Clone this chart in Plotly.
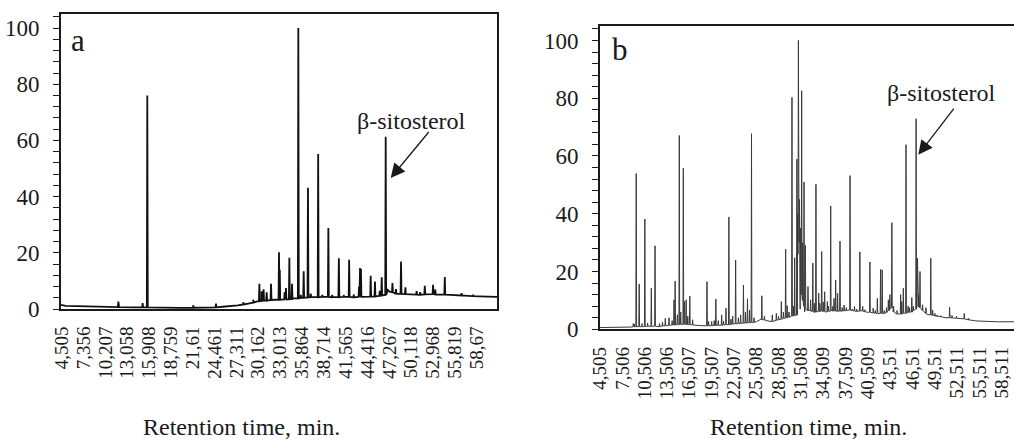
import plotly.graph_objects as go

FONT = "Liberation Serif"
INK = "#1a1a1a"

# ---------------- sample a ----------------
ticks_a = ["4,505", "7,356", "10,207", "13,058", "15,908", "18,759", "21,61",
           "24,461", "27,311", "30,162", "33,013", "35,864", "38,714", "41,565",
           "44,416", "47,267", "50,118", "52,968", "55,819", "58,67"]

# baseline (retention time, min / relative abundance, %)
base_a_t = [4.42, 4.6, 5.0, 6.5, 8.2, 10.0, 12.0, 14.0, 16.5, 18.0, 20.0, 22.0,
            24.0, 25.5, 26.5, 27.5, 28.2, 29.0, 29.5, 30.0, 30.6, 31.5, 32.4,
            33.4, 34.8, 35.8, 37.3, 38.6, 40.0, 41.3, 42.6, 44.0, 45.8, 46.5,
            47.05, 47.3, 48.4, 49.8, 51.0, 52.4, 53.8, 55.2, 56.2, 57.5, 59.0,
            60.3, 61.3]
base_a_y = [1.5, 1.3, 1.1, 1.0, 0.9, 0.8, 0.7, 0.6, 0.5, 0.45, 0.4, 0.45,
            0.6, 0.8, 1.0, 1.3, 1.6, 2.0, 2.3, 2.7, 3.0, 3.1, 3.3,
            3.5, 3.8, 4.0, 4.2, 4.3, 4.2, 4.3, 4.2, 4.4, 4.6, 4.9,
            6.8, 6.2, 5.4, 5.2, 5.0, 5.3, 5.1, 5.0, 4.8, 4.7, 4.5,
            4.4, 4.3]

# peaks: apex time, apex height, level at the foot
peak_a_t = [11.9, 15.07, 15.68, 21.68, 24.64, 28.2, 29.5, 30.3, 30.6, 30.85,
            31.25, 31.82, 32.86, 32.96, 33.6, 33.77, 34.21, 34.56, 35.38, 35.7,
            36.08, 36.64, 37.0, 37.97, 38.5, 39.3, 39.8, 40.67, 41.3, 42.01,
            42.6, 43.3, 43.43, 43.55, 44.82, 45.38, 46.0, 46.26, 46.78, 47.66,
            48.12, 48.78, 49.35, 50.82, 51.28, 51.88, 52.96, 53.25, 54.49,
            56.68, 58.2]
peak_a_h = [2.6, 2.1, 76.0, 1.3, 1.9, 2.4, 3.3, 9.0, 6.3, 7.0,
            5.9, 9.0, 20.2, 14.0, 6.0, 7.5, 18.2, 9.0, 100.0, 5.0,
            13.4, 43.2, 5.5, 55.2, 5.0, 28.8, 5.0, 18.1, 5.0, 17.5,
            5.2, 8.0, 14.6, 14.2, 11.8, 9.8, 6.5, 11.3, 61.3, 9.2,
            7.1, 16.9, 7.7, 6.4, 6.0, 8.3, 8.6, 6.9, 11.4,
            5.6, 5.0]
peak_a_foot = [0.7, 0.55, 0.55, 0.45, 0.6, 1.6, 2.3, 2.8, 2.9, 3.0,
               3.0, 3.2, 3.3, 3.3, 3.4, 3.4, 3.5, 3.6, 3.8, 3.9,
               4.0, 4.1, 4.2, 4.2, 4.3, 4.3, 4.2, 4.2, 4.3, 4.3,
               4.2, 4.3, 4.3, 4.3, 4.4, 4.5, 4.7, 4.8, 5.0, 6.0,
               5.5, 5.4, 5.3, 5.1, 5.1, 5.2, 5.3, 5.2, 5.1,
               4.8, 4.6]

# ---------------- sample b ----------------
ticks_b = ["4,505", "7,506", "10,506", "13,506", "16,507", "19,507", "22,507",
           "25,508", "28,508", "31,508", "34,509", "37,509", "40,509", "43,51",
           "46,51", "49,51", "52,511", "55,511", "58,511"]

base_b_t = [4.505, 6.0, 8.0, 8.9, 9.6, 10.3, 11.0, 12.0, 13.0, 14.0, 15.0,
            16.0, 17.0, 17.8, 18.5, 19.5, 20.5, 21.5, 22.5, 23.5, 24.5, 25.5,
            26.2, 26.8, 27.5, 28.3, 29.0, 29.8, 30.5, 31.0, 31.4, 32.0, 32.7,
            33.3, 34.0, 34.8, 35.6, 36.4, 37.2, 38.0, 38.8, 39.6, 40.4, 41.2,
            42.0, 42.8, 43.4, 43.9, 44.4, 45.0, 45.8, 46.5, 47.3, 47.8, 48.4,
            49.3, 50.2, 51.0, 52.0, 53.0, 54.0, 55.0, 56.5, 58.0, 60.2]
base_b_y = [0.6, 0.6, 0.7, 0.8, 1.0, 0.9, 1.1, 1.0, 1.2, 1.4, 1.6,
            1.7, 1.5, 1.3, 1.2, 1.3, 1.4, 1.6, 1.9, 2.1, 2.3, 2.6,
            3.6, 3.0, 2.6, 3.2, 3.6, 4.2, 4.6, 4.9, 7.0, 6.0, 6.6,
            5.8, 6.4, 6.0, 6.6, 6.2, 6.4, 6.7, 6.2, 6.5, 5.9, 5.6,
            5.4, 5.6, 6.5, 7.5, 5.4, 5.2, 5.6, 6.0, 7.8, 6.6, 5.2,
            4.8, 4.4, 4.0, 3.9, 3.7, 3.2, 2.9, 2.7, 2.6, 2.6]

peak_b_t = [8.98, 9.12, 9.37, 9.77, 10.15, 10.53, 10.9, 11.4, 11.9, 12.5,
            12.9, 13.28, 13.78, 14.2, 14.45, 14.6, 14.9, 15.16, 15.35, 15.7,
            15.85, 16.08, 16.3, 16.57, 16.95, 18.88, 19.1, 19.5, 19.85, 20.07,
            20.4, 20.85, 21.1, 21.43, 21.82, 22.1, 22.33, 22.73, 23.1, 23.4,
            23.78, 24.05, 24.32, 24.6, 24.86, 25.2, 26.25, 26.6, 27.66, 28.2,
            28.5, 28.87, 29.15, 29.45, 29.65, 29.9, 30.3, 30.5, 30.66, 30.96,
            31.06, 31.16, 31.3, 31.42, 31.6, 31.75, 31.92, 32.1, 32.45, 32.8,
            33.1, 33.3, 33.52, 33.89, 34.05, 34.29, 34.5, 34.69, 35.05, 35.2,
            35.5, 35.8, 35.95, 36.17, 36.43, 36.75, 37.05, 37.3, 37.6, 38.1,
            38.4, 38.7, 39.0, 39.42, 39.8, 40.1, 40.77, 41.2, 41.5, 41.77,
            42.2, 42.42, 42.7, 43.0, 43.25, 43.45, 43.72, 43.95, 44.4, 44.9,
            45.05, 45.26, 45.62, 45.9, 46.1, 46.4, 46.6, 46.98, 47.16, 47.3,
            47.5, 47.85, 48.3, 48.95, 49.2, 49.5, 49.8, 50.3, 51.48, 51.8,
            52.4, 53.45, 54.0]
peak_b_h = [2.0, 1.8, 53.9, 15.7, 2.0, 38.2, 2.2, 14.2, 28.9, 2.0,
            2.5, 3.8, 4.0, 3.0, 10.2, 16.7, 5.0, 67.1, 6.0, 55.8,
            9.6, 10.2, 4.5, 11.5, 3.3, 16.5, 2.7, 2.7, 3.0, 10.5,
            3.0, 5.0, 2.8, 7.3, 38.9, 3.5, 4.6, 24.0, 4.0, 5.0,
            15.3, 6.0, 10.6, 6.7, 67.7, 4.0, 11.6, 4.5, 5.0, 5.5,
            4.5, 9.6, 6.0, 27.7, 8.2, 6.0, 80.3, 8.0, 24.8, 58.9,
            40.0, 100.0, 45.0, 35.0, 82.6, 30.0, 51.0, 29.0, 14.8, 10.2,
            22.9, 9.0, 50.2, 12.5, 9.0, 26.9, 9.5, 13.0, 9.6, 8.0,
            42.7, 8.0, 10.7, 17.1, 12.5, 30.5, 7.5, 8.4, 7.5, 53.2,
            7.0, 7.9, 7.0, 26.8, 7.9, 6.8, 23.3, 7.3, 6.5, 10.7,
            20.7, 20.6, 6.5, 7.5, 10.2, 12.0, 36.9, 8.0, 6.5, 12.0,
            9.6, 14.2, 63.9, 8.0, 7.5, 11.0, 8.0, 72.9, 24.6, 12.0,
            20.0, 8.5, 7.5, 24.6, 6.7, 5.5, 5.0, 4.7, 7.6, 4.8,
            4.5, 5.5, 3.8]
peak_b_foot = [0.8, 0.8, 0.9, 0.9, 0.9, 1.0, 1.0, 1.0, 1.1, 1.0,
               1.1, 1.2, 1.4, 1.5, 1.5, 1.5, 1.6, 1.6, 1.7, 1.7,
               1.7, 1.7, 1.6, 1.6, 1.5, 1.2, 1.2, 1.3, 1.3, 1.3,
               1.4, 1.4, 1.5, 1.6, 1.6, 1.7, 1.8, 1.9, 2.0, 2.0,
               2.1, 2.2, 2.2, 2.3, 2.3, 2.4, 3.4, 3.2, 2.7, 3.1,
               3.3, 3.5, 3.7, 3.9, 4.0, 4.2, 4.6, 4.7, 4.8, 4.9,
               26.0, 30.0, 30.0, 12.0, 12.0, 10.0, 8.0, 7.0, 6.5, 6.3,
               6.2, 6.0, 6.0, 6.2, 6.2, 6.3, 6.2, 6.1, 6.1, 6.2,
               6.3, 6.3, 6.4, 6.3, 6.3, 6.3, 6.3, 6.4, 6.5, 6.6,
               6.5, 6.3, 6.2, 6.3, 6.3, 6.1, 5.9, 5.7, 5.6, 5.5,
               5.5, 5.5, 5.5, 5.8, 6.5, 7.0, 7.5, 6.0, 5.3, 5.3,
               5.3, 5.5, 5.6, 5.8, 5.9, 6.0, 6.5, 7.0, 8.0, 7.8,
               7.5, 6.5, 5.5, 5.0, 4.8, 4.6, 4.5, 4.3, 4.0, 3.9,
               3.8, 3.6, 3.3]


def trace_points(base_t, base_y, pk_t, pk_h, pk_foot, half_width):
    """Merge baseline knots and narrow peaks into one time-ordered line."""
    assert len(base_t) == len(base_y)
    assert len(pk_t) == len(pk_h) == len(pk_foot)
    pts = list(zip(base_t, base_y))
    for t, h, f in zip(pk_t, pk_h, pk_foot):
        pts += [(t - half_width, f), (t, h), (t + half_width, f)]
    pts.sort(key=lambda p: p[0])
    return [p[0] for p in pts], [p[1] for p in pts]


xa, ya = trace_points(base_a_t, base_a_y, peak_a_t, peak_a_h, peak_a_foot, 0.06)
xb, yb = trace_points(base_b_t, base_b_y, peak_b_t, peak_b_h, peak_b_foot, 0.05)

W, H = 1014, 441

fig = go.Figure()
fig.add_trace(go.Scatter(x=xa, y=ya, mode="lines", xaxis="x", yaxis="y",
                         line=dict(color="#111111", width=1.8), hoverinfo="skip"))
fig.add_trace(go.Scatter(x=xb, y=yb, mode="lines", xaxis="x2", yaxis="y2",
                         line=dict(color="#3a3a3a", width=1.0), hoverinfo="skip"))


def xaxis_style(ticks, rng, domain, anchor):
    return dict(domain=domain, anchor=anchor, range=rng, automargin=False,
                tickmode="array",
                tickvals=[float(s.replace(",", ".")) for s in ticks],
                ticktext=ticks, tickangle=-90, ticks="",
                ticklabelstandoff=8,
                tickfont=dict(family=FONT, size=19, color=INK),
                showline=True, linecolor=INK, linewidth=2, mirror=True,
                showgrid=False, zeroline=False)


def yaxis_style(domain, anchor, mirror):
    return dict(domain=domain, anchor=anchor, range=[0, 105], automargin=False,
                tickmode="linear", tick0=0, dtick=20,
                ticks="outside", ticklen=6, tickwidth=1.3, tickcolor=INK,
                minor=dict(dtick=4, ticks="outside", ticklen=6, tickwidth=1.3,
                           tickcolor=INK, showgrid=False),
                ticklabelstandoff=9,
                tickfont=dict(family=FONT, size=23, color=INK),
                showline=True, linecolor=INK, linewidth=2, mirror=mirror,
                showgrid=False, zeroline=False)


fig.update_layout(
    width=W, height=H,
    margin=dict(l=0, r=0, t=0, b=0),
    paper_bgcolor="white", plot_bgcolor="white",
    showlegend=False,
    xaxis=xaxis_style(ticks_a, [4.42, 61.3], [61 / W, 497 / W], "y"),
    yaxis=yaxis_style([1 - 309 / H, 1 - 14 / H], "x", True),
    xaxis2=xaxis_style(ticks_b, [4.505, 60.13], [600 / W, 1.0], "y2"),
    yaxis2=yaxis_style([1 - 329.3 / H, 1 - 26 / H], "x2", False),
)

txt = dict(family=FONT, color=INK)
annotations = [
    dict(text="a", xref="paper", yref="paper", x=78 / W, y=1 - 40 / H,
         xanchor="center", yanchor="middle", showarrow=False,
         font=dict(size=31, **txt)),
    dict(text="b", xref="paper", yref="paper", x=620 / W, y=1 - 50 / H,
         xanchor="center", yanchor="middle", showarrow=False,
         font=dict(size=31, **txt)),
    dict(text="β-sitosterol", xref="x", yref="y", x=50.08, y=66.9,
         xanchor="center", yanchor="middle", showarrow=False,
         font=dict(size=24, **txt)),
    dict(text="β-sitosterol", xref="x2", yref="y2", x=50.41, y=81.9,
         xanchor="center", yanchor="middle", showarrow=False,
         font=dict(size=24, **txt)),
    dict(text="", xref="x", yref="y", x=47.43, y=46.6, ax=39.3, ay=-47.6,
         showarrow=True, arrowhead=2, arrowsize=2.2, arrowwidth=1.3,
         arrowcolor=INK, standoff=0),
    dict(text="", xref="x2", yref="y2", x=47.27, y=60.4, ax=36.7, ay=-47.7,
         showarrow=True, arrowhead=2, arrowsize=2.2, arrowwidth=1.3,
         arrowcolor=INK, standoff=0),
    dict(text="Retention time, min.", xref="paper", yref="paper",
         x=241 / W, y=1 - 427 / H, xanchor="center", yanchor="middle",
         showarrow=False, font=dict(size=24, **txt)),
    dict(text="Retention time, min.", xref="paper", yref="paper",
         x=808 / W, y=1 - 427 / H, xanchor="center", yanchor="middle",
         showarrow=False, font=dict(size=24, **txt)),
]
fig.update_layout(annotations=annotations)

fig.write_html("out.html")
